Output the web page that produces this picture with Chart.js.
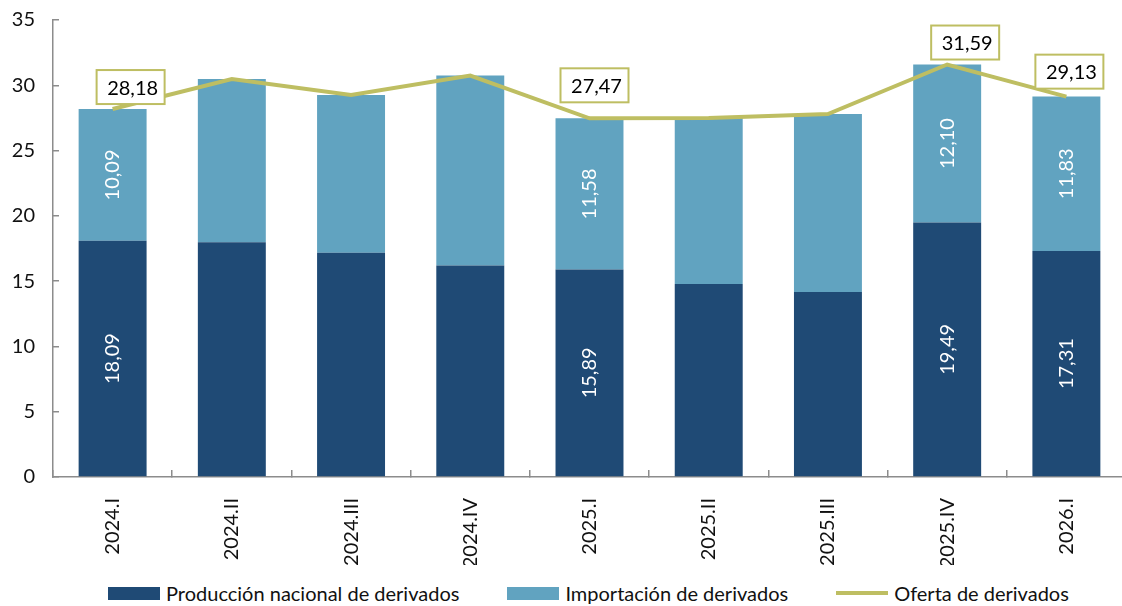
<!DOCTYPE html>
<html lang="es">
<head>
  <meta charset="UTF-8">
  <title>Oferta de derivados</title>
  <script src="https://cdn.jsdelivr.net/npm/chart.js"></script>
  <style>
    body {
      margin: 0;
      background: #fff;
      overflow: hidden;
      font-family: Lato, sans-serif;
    }
    .wrap {
      position: relative;
      width: 1126px;
      height: 565px;
    }
    #legend {
      position: absolute;
      top: 581px;
      left: 108px;
      display: flex;
      align-items: center;
      font-size: 20px;
      color: #111;
      white-space: nowrap;
    }
    #legend .item {
      display: flex;
      align-items: center;
      margin-right: 48px;
    }
    #legend .swatch {
      width: 52px;
      margin-right: 6px;
    }
  </style>
</head>
<body>
  <div class="wrap">
    <canvas id="ofertaChart"></canvas>
  </div>
  <div id="legend"></div>

  <script>
    const quarters = ['2024.I', '2024.II', '2024.III', '2024.IV', '2025.I', '2025.II', '2025.III', '2025.IV', '2026.I'];
    const produccion = [18.09, 17.97, 17.18, 16.19, 15.89, 14.78, 14.17, 19.49, 17.31];
    const importacion = [10.09, 12.51, 12.08, 14.55, 11.58, 12.72, 13.63, 12.10, 11.83];
    const oferta = [28.18, 30.48, 29.26, 30.74, 27.47, 27.50, 27.80, 31.59, 29.13];
    // only these quarters carry value labels
    const labeledIdx = [0, 4, 7, 8];
    // where the boxed total labels sit relative to the line point
    const boxOffsets = [[18, -22], [5, -33], [18, -22], [3, -25]];

    const darkBlue = '#1F4A75';
    const lightBlue = '#61A3C0';
    const olive = '#BEBE62';
    const fmt = v => v.toFixed(2).replace('.', ',');

    const valueLabels = {
      id: 'valueLabels',
      afterDatasetsDraw(chart) {
        const ctx = chart.ctx;
        ctx.save();
        ctx.textAlign = 'center';
        ctx.textBaseline = 'middle';

        // rotated white labels inside the bar segments
        ctx.font = '20px Lato, sans-serif';
        ctx.fillStyle = '#fff';
        [0, 1].forEach(di => {
          const meta = chart.getDatasetMeta(di);
          labeledIdx.forEach(i => {
            const bar = meta.data[i];
            const cy = (bar.y + bar.base) / 2;
            ctx.save();
            ctx.translate(bar.x, cy);
            ctx.rotate(-Math.PI / 2);
            ctx.fillText(fmt(chart.data.datasets[di].data[i]), 0, 0);
            ctx.restore();
          });
        });

        // boxed labels for the supply line
        const lineMeta = chart.getDatasetMeta(2);
        labeledIdx.forEach((i, k) => {
          const pt = lineMeta.data[i];
          const cx = pt.x + boxOffsets[k][0];
          const cy = pt.y + boxOffsets[k][1];
          const w = 68, h = 34;
          ctx.fillStyle = '#fff';
          ctx.fillRect(cx - w / 2, cy - h / 2, w, h);
          ctx.strokeStyle = olive;
          ctx.lineWidth = 2;
          ctx.strokeRect(cx - w / 2, cy - h / 2, w, h);
          ctx.fillStyle = '#000';
          ctx.fillText(fmt(oferta[i]), cx + 2, cy + 1);
        });
        ctx.restore();
      }
    };

    const chart = new Chart(document.getElementById('ofertaChart'), {
      type: 'bar',
      data: {
        labels: quarters,
        datasets: [
          {
            label: 'Producción nacional de derivados',
            data: produccion,
            backgroundColor: darkBlue,
            stack: 'deriv',
            categoryPercentage: 1,
            barPercentage: 0.57,
            order: 2
          },
          {
            label: 'Importación de derivados',
            data: importacion,
            backgroundColor: lightBlue,
            stack: 'deriv',
            categoryPercentage: 1,
            barPercentage: 0.57,
            order: 2
          },
          {
            type: 'line',
            label: 'Oferta de derivados',
            data: oferta,
            borderColor: olive,
            backgroundColor: olive,
            borderWidth: 4,
            pointRadius: 0,
            tension: 0,
            stack: 'total',
            order: 1
          }
        ]
      },
      options: {
        responsive: true,
        maintainAspectRatio: false,
        animation: false,
        layout: { padding: { top: 20, right: 0, left: 0, bottom: 0 } },
        plugins: {
          legend: { display: false },
          tooltip: { enabled: false }
        },
        scales: {
          x: {
            stacked: true,
            grid: {
              display: true,
              drawOnChartArea: false,
              tickLength: -7,
              color: '#8c8c8c',
              lineWidth: 1.5
            },
            border: { color: '#8c8c8c', width: 1.5 },
            ticks: {
              minRotation: 90,
              maxRotation: 90,
              padding: 28,
              color: '#111',
              font: { family: 'Lato', size: 20 }
            },
            afterFit(scale) { scale.height = 565 - 477; }
          },
          y: {
            stacked: true,
            min: 0,
            max: 35,
            grid: {
              display: true,
              drawOnChartArea: false,
              tickLength: -6,
              color: '#8c8c8c',
              lineWidth: 1.5
            },
            border: { color: '#8c8c8c', width: 1.5 },
            ticks: {
              stepSize: 5,
              padding: 24,
              color: '#111',
              font: { family: 'Lato', size: 20 }
            },
            afterFit(scale) {
              scale.width = 53;
              scale.paddingTop = 0;
              scale.paddingBottom = 0;
            }
          }
        }
      },
      plugins: [valueLabels]
    });

    // legend built from the chart's datasets
    const legendEl = document.getElementById('legend');
    chart.data.datasets.forEach(ds => {
      const item = document.createElement('div');
      item.className = 'item';
      const sw = document.createElement('span');
      sw.className = 'swatch';
      if (ds.type === 'line') {
        sw.style.height = '4px';
        sw.style.background = ds.borderColor;
      } else {
        sw.style.height = '13px';
        sw.style.background = ds.backgroundColor;
      }
      const txt = document.createElement('span');
      txt.textContent = ds.label;
      item.appendChild(sw);
      item.appendChild(txt);
      legendEl.appendChild(item);
    });
  </script>
</body>
</html>
